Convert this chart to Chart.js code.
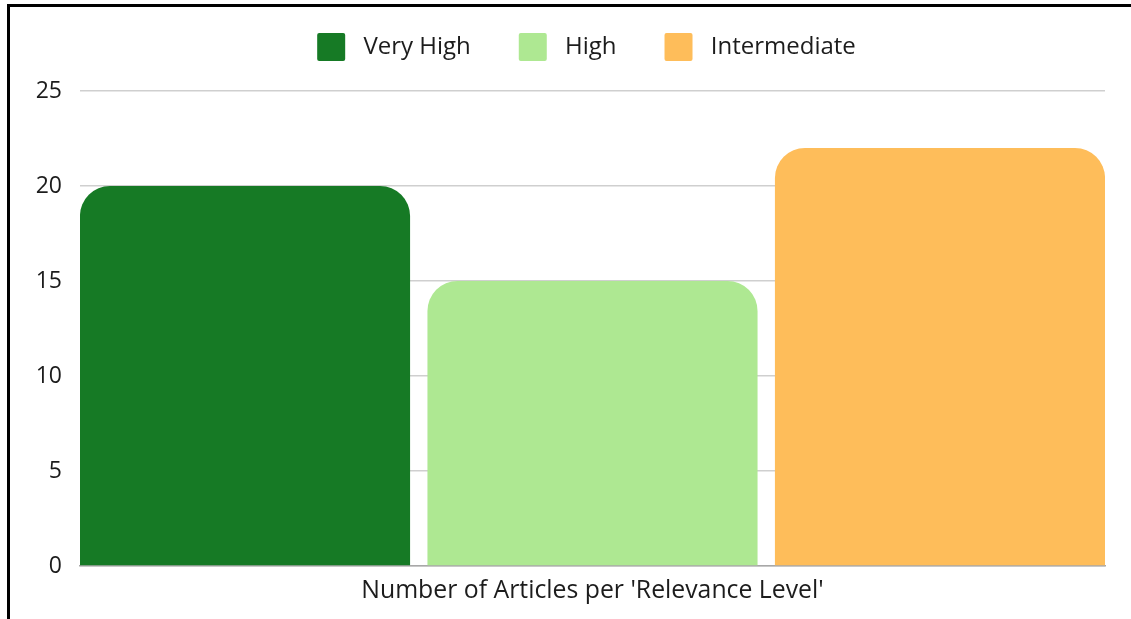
<!DOCTYPE html>
<html>
<head>
<meta charset="utf-8">
<script src="https://cdn.jsdelivr.net/npm/chart.js@4/dist/chart.umd.min.js"></script>
<style>
  html, body { margin: 0; padding: 0; background: #fff; overflow: hidden; }
  body { width: 1131px; height: 619px; position: relative; }
  #frame { position: absolute; left: 7px; top: 4px; width: 2000px; height: 2000px; border: 3px solid #000; box-sizing: border-box; }
  #wrap { position: absolute; left: 0; top: -20px; width: 1131px; height: 639px; }
</style>
</head>
<body>
<div id="frame"></div>
<div id="wrap"><canvas id="chart"></canvas></div>
<script>
const categories = ["Number of Articles per 'Relevance Level'"];
const seriesNames = ["Very High", "High", "Intermediate"];
const seriesValues = [[20], [15], [22]];
const seriesColors = ["#167a25", "#aee892", "#febd5a"];
const yTicks = [0, 5, 10, 15, 20, 25];

const fontFamily = "'Open Sans', 'Noto Sans', sans-serif";

// legend: fixed height so the plot starts where the reference does,
// and nudged right to sit where the reference legend sits
const legendFix = {
  id: 'legendFix',
  beforeLayout(chart) {
    const lg = chart.legend;
    if (lg && !lg._fixed) {
      const fit = lg.fit.bind(lg);
      lg.fit = function () { fit(); this.height = 106; };
      lg._fixed = true;
    }
  },
  afterLayout(chart) {
    const lg = chart.legend;
    if (lg) { lg.left += 34; lg.right += 34; }
  }
};

const ctx = document.getElementById('chart').getContext('2d');
new Chart(ctx, {
  type: 'bar',
  data: {
    labels: categories,
    datasets: seriesNames.map((name, i) => ({
      label: ' ' + name,
      data: seriesValues[i],
      backgroundColor: seriesColors[i],
      borderRadius: 30,
      borderSkipped: 'start',
      categoryPercentage: 1.017,
      barPercentage: 0.95
    }))
  },
  options: {
    responsive: true,
    maintainAspectRatio: false,
    animation: false,
    layout: { padding: { left: 0, right: 26, top: 5, bottom: 0 } },
    scales: {
      x: {
        grid: { display: false, drawTicks: false },
        border: { display: true, color: '#a8a8a8', width: 1.5 },
        ticks: { color: '#1c1c1c', padding: 10, font: { family: fontFamily, size: 24.8 } },
        afterFit(axis) { axis.height = 53; }
      },
      y: {
        min: 0,
        max: 25,
        afterBuildTicks(axis) { axis.ticks = yTicks.map(v => ({ value: v })); },
        grid: { color: '#cfcfcf', lineWidth: 1.5, drawTicks: false },
        border: { display: false },
        ticks: { color: '#1c1c1c', padding: 18, font: { family: fontFamily, size: 23 } },
        afterFit(axis) { axis.width = 80; }
      }
    },
    plugins: {
      legend: {
        position: 'top',
        labels: {
          boxWidth: 28,
          boxHeight: 28,
          padding: 48,
          useBorderRadius: true,
          borderRadius: 2,
          color: '#1c1c1c',
          font: { family: fontFamily, size: 24 }
        }
      },
      tooltip: { enabled: false }
    }
  },
  plugins: [legendFix]
});
</script>
</body>
</html>
